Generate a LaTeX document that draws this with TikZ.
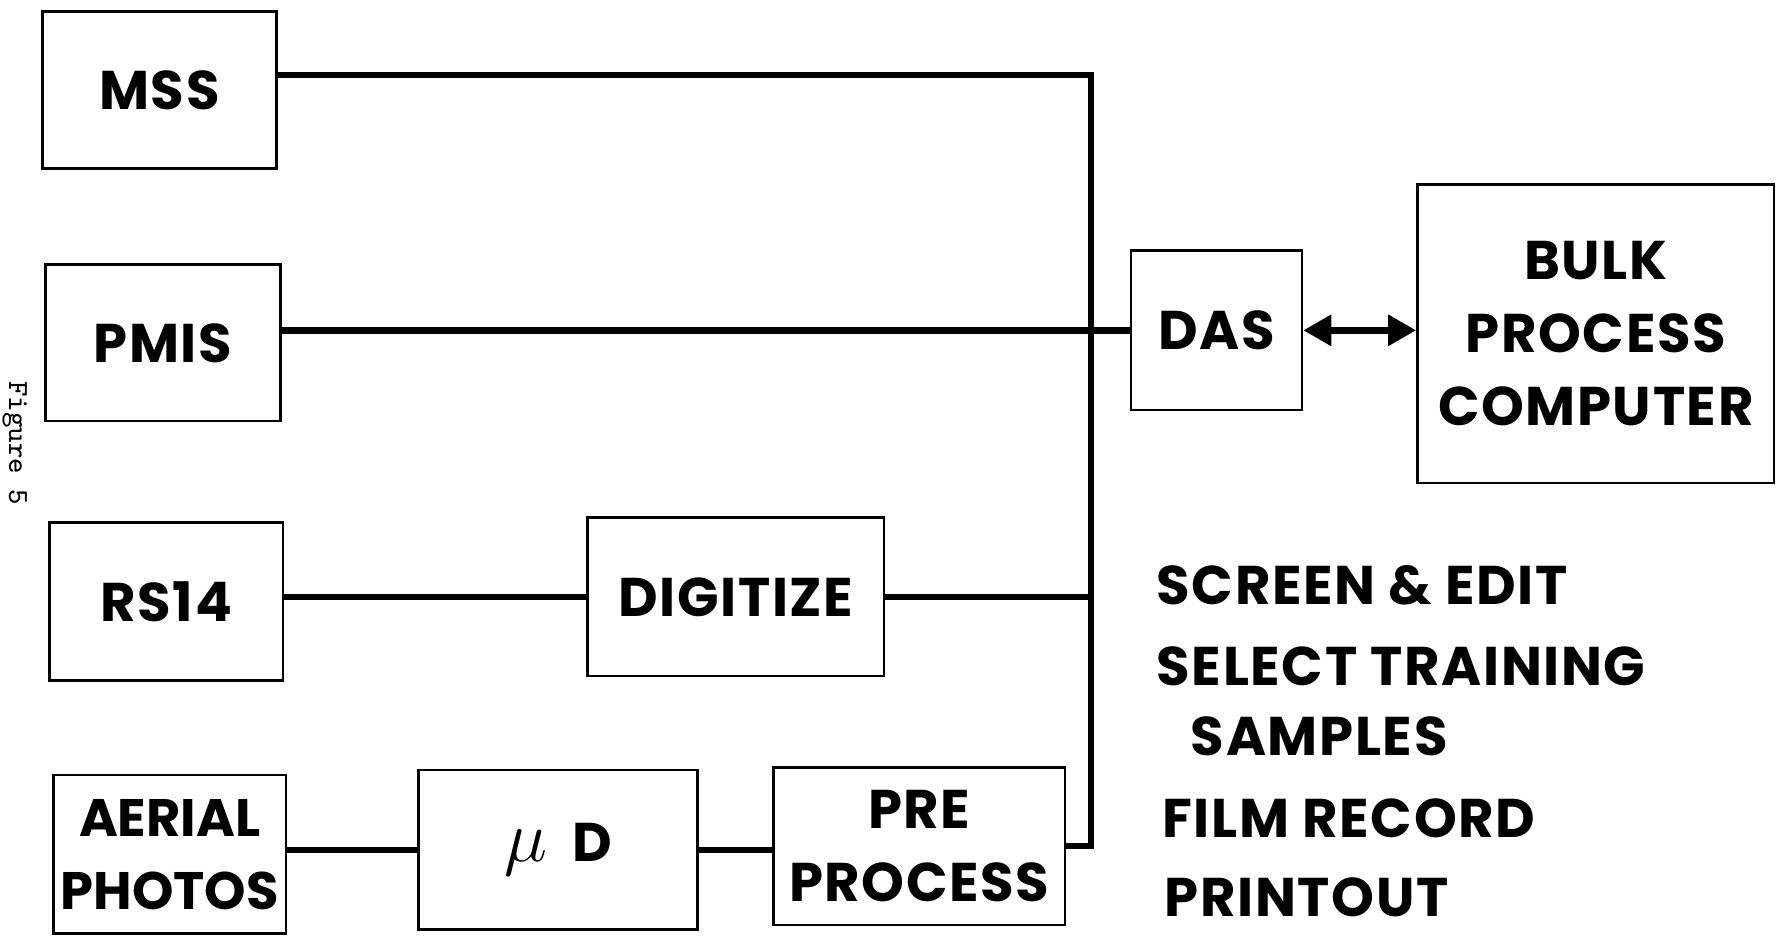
\documentclass[tikz,border=0pt]{standalone}
\usepackage{fontspec}
\setmainfont{Poppins}[LetterSpace=3]
\usetikzlibrary{positioning,calc,arrows.meta}

\begin{document}
\begin{tikzpicture}[x=0.01139cm, y=-0.01139cm,
  unit/.style={draw, line width=0.75pt, inner sep=0pt, align=center},
  wire/.style={line width=1.8pt},
  note/.style={anchor=base west, inner sep=0pt},
  every node/.style={font=\fontsize{15.5}{20.8}\selectfont\bfseries}
]
\useasboundingbox (0,0) rectangle (1568,826);

% sources
\node[unit, minimum width=2.335cm, minimum height=1.572cm] (MSS) at (140,79) {MSS};
\node[unit, minimum width=2.346cm, minimum height=1.56cm] (PMIS) at (143,301) {PMIS};
\node[unit, minimum width=2.335cm, minimum height=1.583cm] (RS14) at (146,528) {RS14};
\node[unit, minimum width=2.324cm, minimum height=1.583cm,
  font=\fontsize{15}{20.8}\selectfont\bfseries\addfontfeatures{LetterSpace=0}] (AER) at (149,750) {AERIAL\\PHOTOS};

% processing
\node[unit, minimum width=2.961cm, minimum height=1.583cm] (DIG) at (646,524) {DIGITIZE};
\node[unit, minimum width=2.79cm, minimum height=1.595cm] (muD) at (490,746)
  {{\fontsize{22}{22}\selectfont$\mu$}\hspace{0.25cm}D};
\node[unit, minimum width=2.916cm, minimum height=1.572cm] (PRE) at (807,743) {PRE\\PROCESS};
\node[unit, minimum width=1.709cm, minimum height=1.595cm] (DAS) at (1068,290) {DAS};
\node[unit, minimum width=3.565cm, minimum height=2.984cm] (BULK) at (1401,293) {BULK\\PROCESS\\COMPUTER};

\coordinate (bustop) at (958,66);

% connections
\draw[wire] (MSS.east |- bustop) -- (bustop) -- (bustop |- PRE.east) -- (PRE.east);
\draw[wire] (PMIS.east |- DAS.west) -- (DAS.west);
\draw[wire] (RS14.east |- DIG.west) -- (DIG.west);
\draw[wire] (DIG.east) -- (DIG.east -| bustop);
\draw[wire] (AER.east |- muD.west) -- (muD.west);
\draw[wire] (muD.east) -- (muD.east -| PRE.west);
\draw[wire, {Triangle[length=0.28cm, width=0.3cm]}-{Triangle[length=0.28cm, width=0.3cm]}]
  (DAS.east) -- (DAS.east -| BULK.west);

% functions
\node[note] (scr) at (1015,531) {SCREEN \& EDIT};
\node[note] (sel) at (1015,602) {SELECT TRAINING};
\node[note] (samp) at (1045,663) {SAMPLES};
\node[note] (film) at (1020,735) {FILM RECORD};
\node[note] (prt) at (1022,805) {PRINTOUT};

\node[rotate=-90, font=\ttfamily\fontsize{8.3}{9}\selectfont] (fig) at (13,389) {Figure 5};
\end{tikzpicture}
\end{document}
